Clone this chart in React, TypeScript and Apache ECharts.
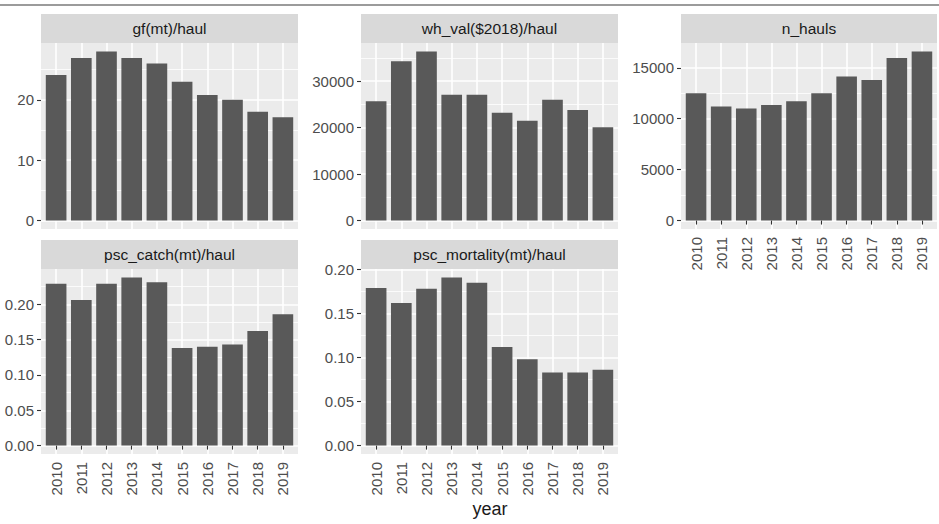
import { useEffect, useRef } from "react";
import * as echarts from "echarts";

const years = ["2010", "2011", "2012", "2013", "2014", "2015", "2016", "2017", "2018", "2019"];

const gfPerHaul = [24.1, 26.9, 28.0, 26.9, 26.0, 23.0, 20.8, 20.0, 18.0, 17.1];
const whValPerHaul = [25700, 34300, 36400, 27100, 27100, 23200, 21500, 26000, 23800, 20100];
const nHauls = [12500, 11200, 11000, 11350, 11700, 12500, 14150, 13800, 15950, 16600];
const pscCatchPerHaul = [0.229, 0.206, 0.229, 0.238, 0.231, 0.138, 0.14, 0.143, 0.162, 0.186];
const pscMortalityPerHaul = [0.179, 0.162, 0.178, 0.191, 0.185, 0.112, 0.098, 0.083, 0.083, 0.086];

const gfTicks = [0, 10, 20];
const gfMinor = [5, 15, 25];
const whValTicks = [0, 10000, 20000, 30000];
const whValMinor = [5000, 15000, 25000, 35000];
const nHaulsTicks = [0, 5000, 10000, 15000];
const nHaulsMinor = [2500, 7500, 12500];
const pscTicks = [0, 0.05, 0.1, 0.15, 0.2];
const pscMinor = [0.025, 0.075, 0.125, 0.175, 0.225];

const FONT = "'Liberation Sans', Arial, sans-serif";
const STRIP_H = 29;

const intFmt = (v: number) => String(Math.round(v));
const dec2Fmt = (v: number) => v.toFixed(2);

const panels = [
  { title: "gf(mt)/haul", values: gfPerHaul, ticks: gfTicks, minor: gfMinor, fmt: intFmt, left: 41, top: 43, width: 257, height: 186, showX: false },
  { title: "wh_val($2018)/haul", values: whValPerHaul, ticks: whValTicks, minor: whValMinor, fmt: intFmt, left: 361, top: 43, width: 257, height: 186, showX: false },
  { title: "n_hauls", values: nHauls, ticks: nHaulsTicks, minor: nHaulsMinor, fmt: intFmt, left: 681, top: 43, width: 256, height: 186, showX: true },
  { title: "psc_catch(mt)/haul", values: pscCatchPerHaul, ticks: pscTicks, minor: pscMinor, fmt: dec2Fmt, left: 41, top: 269, width: 257, height: 185, showX: true },
  { title: "psc_mortality(mt)/haul", values: pscMortalityPerHaul, ticks: pscTicks, minor: pscMinor, fmt: dec2Fmt, left: 361, top: 269, width: 257, height: 185, showX: true },
];

export default function App() {
  const rootRef = useRef<HTMLDivElement>(null);

  useEffect(() => {
    if (!rootRef.current) return;
    const chart = echarts.init(rootRef.current, undefined, { renderer: "svg", width: 939, height: 524 });

    const positions = years.map((_, i) => i + 1);
    const grid: any[] = [];
    const xAxis: any[] = [];
    const yAxis: any[] = [];
    const series: any[] = [];
    const graphic: any[] = [
      { type: "line", shape: { x1: 0, y1: 5, x2: 939, y2: 5 }, style: { stroke: "#7a7a7a", lineWidth: 1.5 }, silent: true },
      {
        type: "text",
        style: { text: "year", x: 490, y: 509, fill: "#1A1A1A", font: `18px ${FONT}`, textAlign: "center", verticalAlign: "middle" },
        silent: true,
      },
    ];

    panels.forEach((p, i) => {
      const top = Math.max(...p.values);
      const min = -0.05 * top;
      const max = 1.05 * top;
      grid.push({ left: p.left, top: p.top, width: p.width, height: p.height, show: true, backgroundColor: "#EBEBEB", borderWidth: 0 });
      xAxis.push({
        type: "value",
        gridIndex: i,
        min: 0.4,
        max: 10.6,
        axisLine: { show: false },
        axisTick: { show: p.showX, customValues: positions, length: 4, lineStyle: { color: "#333333", width: 1.1 } },
        axisLabel: {
          show: p.showX,
          customValues: positions,
          rotate: 90,
          margin: 8,
          color: "#4D4D4D",
          fontSize: 15,
          fontFamily: FONT,
          formatter: (v: number) => years[Math.round(v) - 1] ?? "",
        },
        splitLine: { show: true, lineStyle: { color: "#FFFFFF", width: 1.6 } },
      });
      yAxis.push({
        type: "value",
        gridIndex: i,
        min,
        max,
        position: "left",
        axisLine: { show: false },
        axisTick: { show: true, customValues: p.ticks, length: 4, lineStyle: { color: "#333333", width: 1.1 } },
        axisLabel: { customValues: p.ticks, margin: 7, color: "#4D4D4D", fontSize: 15, fontFamily: FONT, formatter: p.fmt },
        splitLine: { show: true, lineStyle: { color: "#FFFFFF", width: 1.6 } },
      });
      yAxis.push({
        type: "value",
        gridIndex: i,
        min,
        max,
        position: "right",
        axisLine: { show: false },
        axisTick: { show: false, customValues: p.minor },
        axisLabel: { show: false, customValues: p.minor },
        splitLine: { show: true, lineStyle: { color: "#FFFFFF", width: 0.8 } },
      });
      series.push({
        type: "bar",
        xAxisIndex: i,
        yAxisIndex: i * 2,
        data: p.values.map((v, k) => [k + 1, v]),
        barWidth: (p.width / 11.2) * 0.9,
        itemStyle: { color: "#595959" },
        silent: true,
      });
      graphic.push({
        type: "rect",
        shape: { x: p.left, y: p.top - STRIP_H, width: p.width, height: STRIP_H },
        style: { fill: "#D9D9D9" },
        silent: true,
      });
      graphic.push({
        type: "text",
        style: {
          text: p.title,
          x: p.left + p.width / 2,
          y: p.top - STRIP_H / 2,
          fill: "#1A1A1A",
          font: `15.5px ${FONT}`,
          textAlign: "center",
          verticalAlign: "middle",
        },
        silent: true,
      });
    });

    chart.setOption({
      animation: false,
      backgroundColor: "#FFFFFF",
      grid,
      xAxis,
      yAxis,
      series,
      graphic,
    });

    return () => {
      chart.dispose();
    };
  }, []);

  return <div ref={rootRef} style={{ position: "fixed", left: 0, top: 0, width: 939, height: 524 }} />;
}
